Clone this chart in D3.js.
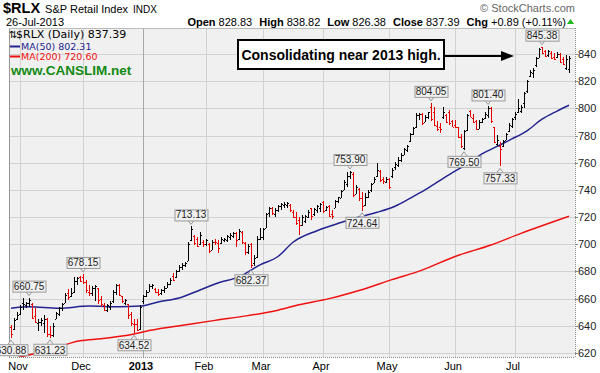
<!DOCTYPE html>
<html lang="en">
<head>
<meta charset="utf-8">
<title>$RLX S&amp;P Retail Index</title>
<script src="https://cdn.jsdelivr.net/npm/d3@7"></script>
<style>
  body { margin: 0; background: #fff; }
  svg { display: block; font-family: "Liberation Sans", Arial, sans-serif; }
</style>
</head>
<body>
<div id="chart"></div>
<script>
// trading calendar (weekdays minus market closures)
var firstDay = "2012-10-25", lastDay = "2013-07-26";
var holidays = ["2012-10-29", "2012-10-30", "2012-11-22", "2012-12-25", "2013-01-01",
                "2013-01-21", "2013-02-18", "2013-03-29", "2013-05-27", "2013-07-04"];

// daily bars [open, high, low, close], one array per month
var oct12 = [[639,640.6,630.88,634],[638,645.8,637,644],[645,650,644,648]];
var nov12 = [[649,655.3,648,654],[657,660.4,651.6,656],[655,657.5,653,657],[657,660.75,654,659],
  [656,657,645,646],[647,652.8,642,642.5],[642,645,636,643],[643,646,640,644],[642,648,635,645],
  [645,645.5,632,634],[634,640,631.23,633],[633,642,632,640],[645,650,645,649.5],[649,654,647.5,653],
  [653,657,651,656],[657,664,656.5,663],[664,667,659,661],[662,668,661,664],[665,676,664,673],
  [673,676,670,675],[676,677,672,673]];
var dec12 = [[676,678.15,671,672],[672,674,664,666],[665,670,662,664],[664,669,662,668],[668,670,658,669],
  [668,668,656,659],[660,662,654,656],[655,657,651,652],[652,656,650.5,655],[654,658,652,657],
  [658,666,657,665],[665,671,663,670],[670,671,662,663],[662,662,657,658],[657,660,655,659],
  [656,656,645,648],[649,650,640,642],[641,645,634.52,641],[641,645,636,637],[638,655,637,654]];
var jan13 = [[658,663,656,662],[662,666.5,661,665],[665,670.5,665,669],[669,671,667,670],[667,668,664,665],
  [665,667,662,663.5],[664,667,663,666],[666,669,664.5,668],[668,672,668,671],[671,675,670,674],
  [677,678.5,673,673.5],[676,681,675.5,680],[680,684.5,679.5,683.5],[683,686,681,685],[685,687,683,686.5],
  [688,701.5,688,700],[703,713.13,702.5,711],[706,706.8,699.5,701],[704,705.4,698,699],[700,709,699.5,707],
  [702,703,698,700]];
var feb13 = [[700,704,698.5,703],[700,701,693.6,695],[696,703,695.5,702],[702,704,699.5,701.5],[701,703,693.6,697],
  [701,705.4,700.5,704],[703,704.6,701.8,704.2],[703,706.8,701.8,706],[705,708,703,707],[706,709,704.6,708],
  [708,709,698,703],[704,711,703,710],[709,710,700,702],[701,702,692,694],[694,700,692.5,699],
  [700,701,682.37,685],[686,692,684,690],[691,706,690,704],[704,712,703,705]];
var mar13 = [[705,712,703,711],[712,723,712,722],[723,727.5,720,727],[727,727.5,721.5,723],[722,726.7,720,725],
  [725,729,723.8,728],[728,730.4,725,729.5],[729,731,726.7,730],[729,731,726.7,730.5],[729,729.5,724,725],
  [724,725,719,720],[720,723.8,714,716],[718,720,707,714],[714,721.5,713.5,720],[717,721.5,716,721],
  [720,725,719,724],[727,727,718,721],[722,726.7,721,726],[725,729,723,728],[727,730.4,724,730]];
var apr13 = [[731,732,723,724.5],[725,728,724.5,727.5],[728,729,720,721],[722,725,718.5,720.5],[727,732.6,726.5,732],
  [732,735,730.5,734.5],[734,740,734,739],[740,747,740,746],[744,753,742,750],[750,753.9,748,753],
  [752,753,735,736],[737,743.6,737,742.5],[741,741.4,732,734],[734,738.5,724.64,728],[729,737.5,728.5,735],
  [735,740,734,738.5],[740,745,738.5,744],[745,749.5,745,748],[750,759.5,749.5,755],[754,755,746,747.5],
  [748,749.5,744.5,746.5],[746,749.5,745,748]];
var may13 = [[748,749,740.5,742],[750,756,749,755],[757,760.5,754.5,759],[758,764,757,762],[762,767.5,760.5,766],
  [766,770.8,765.5,770],[769,773,768,772],[776,781.8,775,781],[781,786.3,780.4,785.5],[786,796.6,785.5,795],
  [795,796.6,791.4,796],[796,796.6,787.8,789],[790,795,790,794],[794,797.5,792.5,797],[801,804.05,791,792],
  [797,801,787,788],[787,791,783.5,785],[786,789,782,784.5],[794,801,792.5,797],[795,795.5,789,790],
  [797,799,787.5,789.5],[791,791.5,786,786.5]];
var jun13 = [[788,791.4,785.5,786],[786,786.3,778,779],[779,781,771,772],[771,784,769.5,783],[784,796,783.5,795],
  [798,799,793.5,794],[793,796,789,790],[791,791.5,784,785],[785,791.4,784.5,790],[790,793,789,792],
  [793,797,792.5,796],[795,801.4,793,800],[800,801,789.5,791],[786,786.3,774.5,775],[774,780.4,772,776.5],
  [772,775,757.33,770],[772,776.7,771.5,776],[777,782,776.5,781],[783,789,782.5,788],[787,793,785.5,792]];
var jul13 = [[794,797.3,791.4,796],[797,807,796.5,800],[798,802.5,796.6,801],[804,812,800,811],[813,820.9,811.3,820],
  [824,828,823,827],[826,829.7,822.4,828],[832,837.8,830.5,837],[837,844.4,837,843.5],[845,845.38,840.3,841],
  [842,843,837.8,838.5],[839,843,838,842],[841,842,836,837],[838,840.7,835.6,836],[838,841.4,837,840],
  [840,840.7,833.4,834],[836,838,832,833],[830,839,828.5,836.5],[828.83,838.82,826.38,837.39]];

// moving averages [date, value]
var ma50 = [["2012-10-25",653],["2012-11-06",654],["2012-11-20",653],["2012-12-05",654.5],["2012-12-19",654],
  ["2012-12-31",654.5],["2013-01-09",657.5],["2013-01-18",660.5],["2013-01-30",666.4],["2013-02-07",671.5],
  ["2013-02-19",676],["2013-02-28",684.8],["2013-03-08",691],["2013-03-15",701.5],["2013-03-27",710],
  ["2013-04-09",716],["2013-04-17",720],["2013-04-25",723.5],["2013-05-03",728],["2013-05-10",733.8],
  ["2013-05-17",740],["2013-05-24",747],["2013-05-31",752.5],["2013-06-07",759],["2013-06-14",766.5],
  ["2013-06-21",772],["2013-06-28",777.5],["2013-07-08",783.5],["2013-07-15",792],["2013-07-22",798],
  ["2013-07-26",802.31]];
var ma200 = [["2012-10-25",615],["2012-11-01",617],["2012-11-13",621],["2012-11-30",629],["2012-12-11",630.5],
  ["2012-12-27",634],["2013-01-04",636.5],["2013-01-24",641],["2013-02-06",644],["2013-02-22",647.5],
  ["2013-03-08",651.5],["2013-03-19",655.5],["2013-04-03",660],["2013-04-17",666],["2013-05-02",674],
  ["2013-05-16",681],["2013-06-03",691],["2013-06-19",699.5],["2013-07-03",708],["2013-07-26",720.6]];

var yTicks = [620, 640, 660, 680, 700, 720, 740, 760, 780, 800, 820, 840];

// high/low callouts
var callouts = [["2012-10-25","low"],["2012-11-06","high"],["2012-11-15","low"],["2012-12-03","high"],
  ["2012-12-27","low"],["2013-01-25","high"],["2013-02-25","low"],["2013-04-12","high"],["2013-04-18","low"],
  ["2013-05-21","high"],["2013-06-06","low"],["2013-06-18","high"],["2013-06-24","low"],["2013-07-15","high"]];

var note = "Consolidating near 2013 high.";

// ---------------------------------------------------------------
var width = 600, height = 373;
var plot = {left: 9, right: 575, top: 28, bottom: 357};

var fmt = d3.utcFormat("%Y-%m-%d");
var hol = new Set(holidays);
var days = d3.utcDay.range(new Date(firstDay), d3.utcDay.offset(new Date(lastDay), 1))
  .filter(function(d) { var w = d.getUTCDay(); return w > 0 && w < 6 && !hol.has(fmt(d)); });

var raw = [].concat(oct12, nov12, dec12, jan13, feb13, mar13, apr13, may13, jun13, jul13);
var bars = raw.map(function(b, i) {
  return {i: i, date: fmt(days[i]), o: b[0], h: b[1], l: b[2], c: b[3]};
});
var byDate = new Map(bars.map(function(d) { return [d.date, d]; }));

var x = d3.scaleLinear().domain([-2/3, bars.length + 1]).range([plot.left, plot.right]);
var y = d3.scaleLinear().domain([620, 840]).range([353, 54]);

var svg = d3.select("#chart").append("svg")
  .attr("width", width).attr("height", height);

svg.append("defs").append("clipPath").attr("id", "clip")
  .append("rect").attr("x", plot.left).attr("y", plot.top)
  .attr("width", plot.right - plot.left).attr("height", plot.bottom - plot.top);

// plot background
svg.append("rect").attr("x", plot.left).attr("y", plot.top)
  .attr("width", plot.right - plot.left).attr("height", plot.bottom - plot.top)
  .attr("fill", "#f0f0f0");

// horizontal grid
svg.append("g").selectAll("line").data(yTicks).join("line")
  .attr("x1", plot.left).attr("x2", plot.right)
  .attr("y1", function(d) { return Math.round(y(d)) + 0.5; })
  .attr("y2", function(d) { return Math.round(y(d)) + 0.5; })
  .attr("stroke", "#d2d2d2");

// month starts
var monthStarts = bars.filter(function(d, i) {
  return i > 0 && d.date.slice(5, 7) !== bars[i - 1].date.slice(5, 7);
});
var monthFmt = d3.utcFormat("%b");
svg.append("g").selectAll("line").data(monthStarts).join("line")
  .attr("x1", function(d) { return Math.round(x(d.i)) + 0.5; })
  .attr("x2", function(d) { return Math.round(x(d.i)) + 0.5; })
  .attr("y1", plot.top).attr("y2", plot.bottom)
  .attr("stroke", function(d) { return d.date.slice(5, 7) === "01" ? "#a8a8a8" : "#d2d2d2"; });

svg.append("g").selectAll("text").data(monthStarts).join("text")
  .attr("x", function(d) { return x(d.i) - 2; })
  .attr("y", 370)
  .attr("text-anchor", "middle")
  .attr("font-size", 11)
  .attr("font-weight", function(d) { return d.date.slice(5, 7) === "01" ? "bold" : "normal"; })
  .text(function(d) {
    return d.date.slice(5, 7) === "01" ? d.date.slice(0, 4) : monthFmt(new Date(d.date));
  });

// frame
svg.append("line").attr("x1", plot.left + 0.5).attr("x2", plot.left + 0.5)
  .attr("y1", plot.top).attr("y2", plot.bottom).attr("stroke", "#999");
svg.append("line").attr("x1", plot.left).attr("x2", plot.right)
  .attr("y1", plot.top + 0.5).attr("y2", plot.top + 0.5).attr("stroke", "#bbb");
svg.append("line").attr("x1", plot.left).attr("x2", plot.right)
  .attr("y1", plot.bottom + 0.5).attr("y2", plot.bottom + 0.5)
  .attr("stroke", "#888").attr("stroke-dasharray", "1,1");
svg.append("line").attr("x1", plot.right + 0.5).attr("x2", plot.right + 0.5)
  .attr("y1", plot.top).attr("y2", plot.bottom)
  .attr("stroke", "#888").attr("stroke-dasharray", "1,1");

// right axis labels
var yAxis = svg.append("g");
yAxis.selectAll("line").data(yTicks).join("line")
  .attr("x1", plot.right).attr("x2", plot.right + 3)
  .attr("y1", function(d) { return Math.round(y(d)) + 0.5; })
  .attr("y2", function(d) { return Math.round(y(d)) + 0.5; })
  .attr("stroke", "#888");
yAxis.selectAll("text").data(yTicks).join("text")
  .attr("x", 578).attr("y", function(d) { return y(d) + 4; })
  .attr("font-size", 11).attr("fill", "#222")
  .text(function(d) { return d; });

var chart = svg.append("g").attr("clip-path", "url(#clip)");

// moving averages
var parse = function(s) { return byDate.get(s).i; };
var maLine = d3.line()
  .x(function(d) { return x(parse(d[0])); })
  .y(function(d) { return y(d[1]); })
  .curve(d3.curveMonotoneX);
chart.append("path").datum(ma200).attr("d", maLine)
  .attr("fill", "none").attr("stroke", "#f01010").attr("stroke-width", 1.5);
chart.append("path").datum(ma50).attr("d", maLine)
  .attr("fill", "none").attr("stroke", "#23238f").attr("stroke-width", 1.5);

// OHLC bars
var barColor = function(d) {
  var prev = d.i > 0 ? bars[d.i - 1].c : d.o;
  return d.c < prev ? "#e60000" : "#000";
};
var bar = chart.append("g").selectAll("g").data(bars).join("g")
  .attr("stroke", barColor).attr("shape-rendering", "crispEdges");
bar.append("line")
  .attr("x1", function(d) { return Math.round(x(d.i)) + 0.5; })
  .attr("x2", function(d) { return Math.round(x(d.i)) + 0.5; })
  .attr("y1", function(d) { return y(d.h); })
  .attr("y2", function(d) { return y(d.l); });
bar.append("line")
  .attr("x1", function(d) { return Math.round(x(d.i)) - 1; })
  .attr("x2", function(d) { return Math.round(x(d.i)); })
  .attr("y1", function(d) { return Math.round(y(d.o)) + 0.5; })
  .attr("y2", function(d) { return Math.round(y(d.o)) + 0.5; });
bar.append("line")
  .attr("x1", function(d) { return Math.round(x(d.i)) + 1; })
  .attr("x2", function(d) { return Math.round(x(d.i)) + 2; })
  .attr("y1", function(d) { return Math.round(y(d.c)) + 0.5; })
  .attr("y2", function(d) { return Math.round(y(d.c)) + 0.5; });

// callouts
var bw = 33, bh = 11, gap = 6;
var co = svg.append("g").selectAll("g").data(callouts).join("g")
  .attr("transform", function(d) {
    var b = byDate.get(d[0]);
    var px = x(b.i), py = d[1] === "high" ? y(b.h) : y(b.l);
    return "translate(" + px + "," + py + ")";
  });
co.append("path")
  .attr("d", function(d) {
    return d[1] === "high" ? "M-3," + (-gap) + "L0," + (-gap + 4) + "L3," + (-gap)
                           : "M-3," + gap + "L0," + (gap - 4) + "L3," + gap;
  })
  .attr("fill", "#f0f0f0").attr("stroke", "#999");
co.append("rect")
  .attr("x", -bw / 2 + 0.5)
  .attr("y", function(d) { return d[1] === "high" ? -gap - bh + 0.5 : gap + 0.5; })
  .attr("width", bw).attr("height", bh)
  .attr("fill", "#f0f0f0").attr("stroke", "#999");
co.append("text")
  .attr("text-anchor", "middle")
  .attr("y", function(d) { return d[1] === "high" ? -gap - 2 : gap + bh - 1; })
  .attr("font-size", 10).attr("fill", "#222")
  .text(function(d) {
    var b = byDate.get(d[0]);
    return (d[1] === "high" ? b.h : b.l).toFixed(2);
  });

// annotation box and arrow
svg.append("rect").attr("x", 238).attr("y", 40).attr("width", 206).attr("height", 29)
  .attr("fill", "#fff").attr("stroke", "#000").attr("stroke-width", 2);
svg.append("text").attr("x", 341).attr("y", 60).attr("text-anchor", "middle")
  .attr("font-size", 14).attr("font-weight", "bold").text(note);
svg.append("line").attr("x1", 445).attr("x2", 503).attr("y1", 56).attr("y2", 56)
  .attr("stroke", "#000").attr("stroke-width", 2);
svg.append("path").attr("d", "M501,51L514,56L501,61Z").attr("fill", "#000");

// legend
var last = bars[bars.length - 1], prev = bars[bars.length - 2];
var legend = svg.append("g").attr("font-family", "'DejaVu Sans', Verdana, sans-serif");
legend.append("text").attr("x", 9).attr("y", 38).attr("font-size", 10).text("\u21c5");
legend.append("text").attr("x", 16).attr("y", 38).attr("font-size", 11)
  .text("$RLX (Daily) " + last.c.toFixed(2));
legend.append("line").attr("x1", 10).attr("x2", 20).attr("y1", 46.5).attr("y2", 46.5)
  .attr("stroke", "#23238f").attr("stroke-width", 2);
legend.append("text").attr("x", 21).attr("y", 50).attr("font-size", 9.5).attr("fill", "#23238f")
  .text("MA(50) " + ma50[ma50.length - 1][1].toFixed(2));
legend.append("line").attr("x1", 10).attr("x2", 20).attr("y1", 56.5).attr("y2", 56.5)
  .attr("stroke", "#f01010").attr("stroke-width", 2);
legend.append("text").attr("x", 21).attr("y", 60).attr("font-size", 9.5).attr("fill", "#f01010")
  .text("MA(200) " + ma200[ma200.length - 1][1].toFixed(2));
svg.append("text").attr("x", 11).attr("y", 75).attr("font-size", 13.5).attr("font-weight", "bold")
  .attr("fill", "#138a13").text("www.CANSLIM.net");

// header
var head = svg.append("text").attr("x", 3).attr("y", 13);
head.append("tspan").attr("font-size", 14.5).attr("font-weight", "bold").text("$RLX");
head.append("tspan").attr("font-size", 11).attr("dx", 5).text("S&P Retail Index");
head.append("tspan").attr("font-size", 10).attr("dx", 5).text("INDX");
svg.append("text").attr("x", 6).attr("y", 25.5).attr("font-size", 11).text("26-Jul-2013");
svg.append("text").attr("x", 575).attr("y", 12).attr("text-anchor", "end")
  .attr("font-size", 11).attr("fill", "#666").text("\u00a9 StockCharts.com");

var chg = last.c - prev.c;
var quote = [["Open", last.o], ["High", last.h], ["Low", last.l], ["Close", last.c]];
var qt = svg.append("text").attr("x", 566).attr("y", 25.5).attr("text-anchor", "end").attr("font-size", 11);
quote.forEach(function(q, k) {
  qt.append("tspan").attr("font-weight", "bold").attr("dx", k ? 7 : 0).text(q[0]);
  qt.append("tspan").attr("dx", 3).text(q[1].toFixed(2));
});
qt.append("tspan").attr("font-weight", "bold").attr("dx", 7).text("Chg");
qt.append("tspan").attr("dx", 3)
  .text("+" + chg.toFixed(2) + " (+" + (chg / prev.c * 100).toFixed(2) + "%)");
svg.append("path").attr("d", "M567,24L574,24L570.5,19Z").attr("fill", "#1bb81b");
</script>
</body>
</html>
